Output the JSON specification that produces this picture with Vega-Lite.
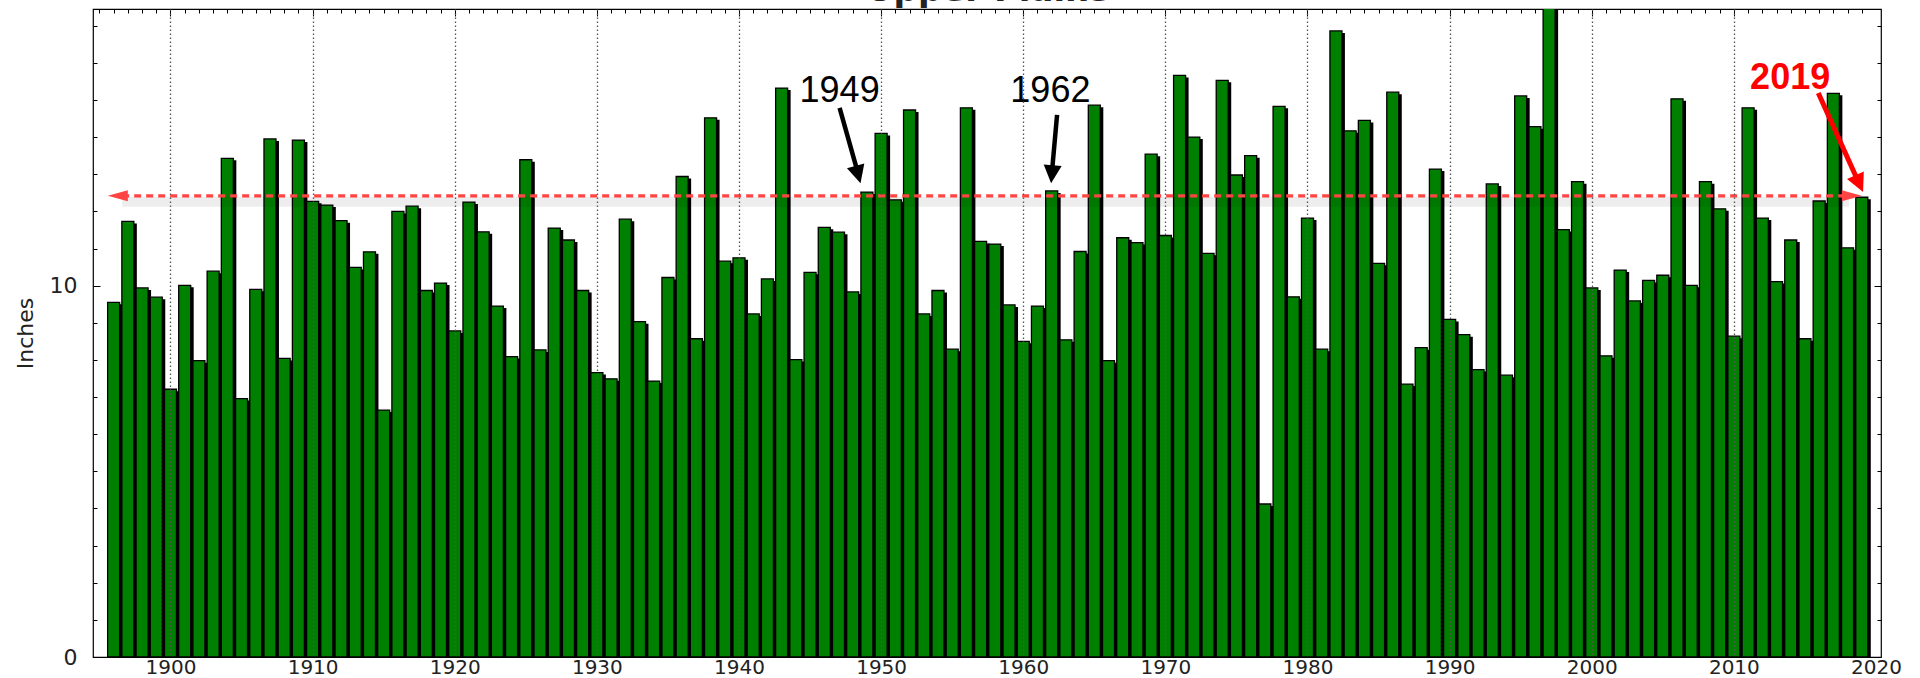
{
  "$schema": "https://vega.github.io/schema/vega-lite/v6.json",
  "width": 1788,
  "height": 648,
  "autosize": {"type": "none"},
  "padding": {"left": 93, "top": 9, "right": 39, "bottom": 21},
  "background": "white",
  "config": {
    "view": {"stroke": "black", "strokeWidth": 1.2},
    "axis": {"labelFont": "DejaVu Sans", "labelFontSize": 22, "labelColor": "#222", "titleFont": "DejaVu Sans", "titleFontSize": 22, "titleFontWeight": "normal", "titleColor": "#222", "tickColor": "black", "tickWidth": 1, "domain": false, "grid": false}
  },
  "datasets": {
    "rain": [
      {"year":1896,"inches":9.55},{"year":1897,"inches":11.73},{"year":1898,"inches":9.94},{"year":1899,"inches":9.69},
      {"year":1900,"inches":7.21},{"year":1901,"inches":10.01},{"year":1902,"inches":7.98},{"year":1903,"inches":10.39},{"year":1904,"inches":13.43},
      {"year":1905,"inches":6.96},{"year":1906,"inches":9.90},{"year":1907,"inches":13.95},{"year":1908,"inches":8.04},{"year":1909,"inches":13.92},
      {"year":1910,"inches":12.27},{"year":1911,"inches":12.17},{"year":1912,"inches":11.75},{"year":1913,"inches":10.49},{"year":1914,"inches":10.91},
      {"year":1915,"inches":6.65},{"year":1916,"inches":12.00},{"year":1917,"inches":12.14},{"year":1918,"inches":9.87},{"year":1919,"inches":10.07},
      {"year":1920,"inches":8.78},{"year":1921,"inches":12.25},{"year":1922,"inches":11.45},{"year":1923,"inches":9.45},{"year":1924,"inches":8.09},
      {"year":1925,"inches":13.39},{"year":1926,"inches":8.27},{"year":1927,"inches":11.55},{"year":1928,"inches":11.23},{"year":1929,"inches":9.87},
      {"year":1930,"inches":7.66},{"year":1931,"inches":7.49},{"year":1932,"inches":11.79},{"year":1933,"inches":9.03},{"year":1934,"inches":7.43},
      {"year":1935,"inches":10.22},{"year":1936,"inches":12.94},{"year":1937,"inches":8.57},{"year":1938,"inches":14.52},{"year":1939,"inches":10.66},
      {"year":1940,"inches":10.75},{"year":1941,"inches":9.24},{"year":1942,"inches":10.18},{"year":1943,"inches":15.32},{"year":1944,"inches":8.01},
      {"year":1945,"inches":10.36},{"year":1946,"inches":11.57},{"year":1947,"inches":11.44},{"year":1948,"inches":9.83},{"year":1949,"inches":12.52},
      {"year":1950,"inches":14.10},{"year":1951,"inches":12.31},{"year":1952,"inches":14.73},{"year":1953,"inches":9.24},{"year":1954,"inches":9.87},
      {"year":1955,"inches":8.29},{"year":1956,"inches":14.79},{"year":1957,"inches":11.19},{"year":1958,"inches":11.12},{"year":1959,"inches":9.48},
      {"year":1960,"inches":8.50},{"year":1961,"inches":9.45},{"year":1962,"inches":12.55},{"year":1963,"inches":8.54},{"year":1964,"inches":10.92},
      {"year":1965,"inches":14.86},{"year":1966,"inches":7.98},{"year":1967,"inches":11.29},{"year":1968,"inches":11.16},{"year":1969,"inches":13.54},
      {"year":1970,"inches":11.35},{"year":1971,"inches":15.66},{"year":1972,"inches":14.00},{"year":1973,"inches":10.87},{"year":1974,"inches":15.53},
      {"year":1975,"inches":12.98},{"year":1976,"inches":13.50},{"year":1977,"inches":4.12},{"year":1978,"inches":14.83},{"year":1979,"inches":9.70},
      {"year":1980,"inches":11.82},{"year":1981,"inches":8.29},{"year":1982,"inches":16.86},{"year":1983,"inches":14.17},{"year":1984,"inches":14.45},
      {"year":1985,"inches":10.60},{"year":1986,"inches":15.21},{"year":1987,"inches":7.35},{"year":1988,"inches":8.33},{"year":1989,"inches":13.14},
      {"year":1990,"inches":9.09},{"year":1991,"inches":8.68},{"year":1992,"inches":7.74},{"year":1993,"inches":12.74},{"year":1994,"inches":7.59},
      {"year":1995,"inches":15.11},{"year":1996,"inches":14.28},{"year":1997,"inches":17.5},{"year":1998,"inches":11.51},{"year":1999,"inches":12.80},
      {"year":2000,"inches":9.94},{"year":2001,"inches":8.11},{"year":2002,"inches":10.42},{"year":2003,"inches":9.59},{"year":2004,"inches":10.14},
      {"year":2005,"inches":10.28},{"year":2006,"inches":15.03},{"year":2007,"inches":10.01},{"year":2008,"inches":12.80},{"year":2009,"inches":12.07},
      {"year":2010,"inches":8.64},{"year":2011,"inches":14.79},{"year":2012,"inches":11.82},{"year":2013,"inches":10.11},{"year":2014,"inches":11.23},
      {"year":2015,"inches":8.57},{"year":2016,"inches":12.28},{"year":2017,"inches":15.18},{"year":2018,"inches":11.02},{"year":2019,"inches":12.38}
    ],
    "refline": [{"year": 1896.6, "inches": 12.42}, {"year": 2018.1, "inches": 12.42}],
    "refleft": [{"year": 1895.59, "inches": 12.42}],
    "refright": [{"year": 2019.0, "inches": 12.42}],
    "blackarrows": [
      {"arrow": "1949", "year": 1947.08, "inches": 14.79}, {"arrow": "1949", "year": 1948.34, "inches": 13.07},
      {"arrow": "1962", "year": 1962.38, "inches": 14.60}, {"arrow": "1962", "year": 1961.99, "inches": 12.93}
    ],
    "tip1949": [{"year": 1948.55, "inches": 12.76}],
    "tip1962": [{"year": 1961.96, "inches": 12.76}],
    "redarrow": [{"year": 2015.94, "inches": 15.19}, {"year": 2018.74, "inches": 12.81}],
    "tip2019": [{"year": 2019.09, "inches": 12.52}],
    "blacklabels": [{"text": "1949", "year": 1947.08, "inches": 14.95}, {"text": "1962", "year": 1961.91, "inches": 14.95}],
    "redlabel": [{"text": "2019", "year": 2013.96, "inches": 15.30}],
    "title": [{"text": "Upper Plains", "year": 1957.5, "inches": 17.66}]
  },
  "layer": [
    {
      "data": {"name": "rain"},
      "mark": {"type": "bar", "color": "black", "width": 12, "xOffset": 3, "yOffset": 2, "clip": true},
      "encoding": {
        "x": {"field": "year", "type": "quantitative", "scale": {"domain": [1894.9, 2020], "nice": false, "zero": false},
          "axis": {"orient": "bottom", "values": [1900,1910,1920,1930,1940,1950,1960,1970,1980,1990,2000,2010,2020], "format": "d", "ticks": false, "labelPadding": 0, "labelFontSize": 20, "labelFlush": false, "labelOverlap": false, "labelBound": false, "title": null}},
        "y": {"field": "inches", "type": "quantitative", "scale": {"domain": [0, 17.45], "nice": false, "zero": true},
          "axis": {"orient": "left", "values": [0, 10], "format": "d", "ticks": false, "labelPadding": 16, "title": "Inches", "titlePadding": 12}}
      }
    },
    {
      "data": {"name": "rain"},
      "mark": {"type": "bar", "color": "#008000", "stroke": "black", "strokeWidth": 1.3, "width": 12, "clip": true},
      "encoding": {
        "x": {"field": "year", "type": "quantitative", "scale": {"domain": [1894.9, 2020], "nice": false, "zero": false},
          "axis": {"orient": "bottom", "values": [1900,1910,1920,1930,1940,1950,1960,1970,1980,1990,2000,2010], "grid": true, "gridColor": "#555", "gridDash": [1.5, 2.5], "gridWidth": 1.3, "labels": false, "ticks": false, "zindex": 1, "title": null}},
        "y": {"field": "inches", "type": "quantitative", "axis": null}
      }
    },
    {
      "mark": {"type": "rule", "color": "black", "strokeWidth": 1.2},
      "encoding": {
        "y": {"datum": 11.41, "type": "quantitative",
          "axis": {"orient": "left", "values": [0,1,2,3,4,5,6,7,8,9,10,11,12,13,14,15,16,17], "labels": false, "ticks": true, "tickSize": {"condition": {"test": "datum.value % 10 === 0", "value": -7}, "value": -4}, "title": null}}
      }
    },
    {
      "data": {"name": "refline"},
      "mark": {"type": "line", "color": "#000000", "opacity": 0.07, "strokeWidth": 10, "yOffset": 6},
      "encoding": {
        "x": {"field": "year", "type": "quantitative", "axis": null},
        "y": {"field": "inches", "type": "quantitative", "axis": null}
      }
    },
    {
      "data": {"name": "refline"},
      "mark": {"type": "line", "color": "#ff4444", "strokeWidth": 3.3, "strokeDash": [7, 5]},
      "encoding": {
        "x": {"field": "year", "type": "quantitative",
          "axis": {"orient": "top", "values": [1895,1896,1897,1898,1899,1900,1901,1902,1903,1904,1905,1906,1907,1908,1909,1910,1911,1912,1913,1914,1915,1916,1917,1918,1919,1920,1921,1922,1923,1924,1925,1926,1927,1928,1929,1930,1931,1932,1933,1934,1935,1936,1937,1938,1939,1940,1941,1942,1943,1944,1945,1946,1947,1948,1949,1950,1951,1952,1953,1954,1955,1956,1957,1958,1959,1960,1961,1962,1963,1964,1965,1966,1967,1968,1969,1970,1971,1972,1973,1974,1975,1976,1977,1978,1979,1980,1981,1982,1983,1984,1985,1986,1987,1988,1989,1990,1991,1992,1993,1994,1995,1996,1997,1998,1999,2000,2001,2002,2003,2004,2005,2006,2007,2008,2009,2010,2011,2012,2013,2014,2015,2016,2017,2018,2019], "labels": false, "ticks": true, "tickSize": {"condition": {"test": "datum.value % 10 === 0", "value": -7}, "value": -4}, "title": null}},
        "y": {"field": "inches", "type": "quantitative",
          "axis": {"orient": "right", "values": [1,2,3,4,5,6,7,8,9,10,11,12,13,14,15,16,17], "labels": false, "ticks": true, "tickSize": {"condition": {"test": "datum.value % 10 === 0", "value": -7}, "value": -4}, "title": null}}
      }
    },
    {
      "data": {"name": "refleft"},
      "mark": {"type": "point", "shape": "M 2 -0.55 L 0 0 L 2 0.55 Z", "size": 400, "filled": true, "color": "#ff4444", "opacity": 1, "strokeWidth": 0},
      "encoding": {
        "x": {"field": "year", "type": "quantitative", "axis": null},
        "y": {"field": "inches", "type": "quantitative", "axis": null}
      }
    },
    {
      "data": {"name": "refright"},
      "mark": {"type": "point", "shape": "M -2 -0.55 L 0 0 L -2 0.55 Z", "size": 400, "filled": true, "color": "#ff4444", "opacity": 1, "strokeWidth": 0},
      "encoding": {
        "x": {"field": "year", "type": "quantitative", "axis": null},
        "y": {"field": "inches", "type": "quantitative", "axis": null}
      }
    },
    {
      "data": {"name": "blackarrows"},
      "mark": {"type": "line", "color": "black", "strokeWidth": 4.5, "strokeCap": "butt"},
      "encoding": {
        "x": {"field": "year", "type": "quantitative", "axis": null},
        "y": {"field": "inches", "type": "quantitative", "axis": null},
        "detail": {"field": "arrow"}
      }
    },
    {
      "data": {"name": "tip1949"},
      "mark": {"type": "point", "shape": "M -1 -2 L 0 0 L 1 -2 Z", "size": 324, "angle": 344.3, "filled": true, "color": "black", "opacity": 1, "strokeWidth": 0},
      "encoding": {
        "x": {"field": "year", "type": "quantitative", "axis": null},
        "y": {"field": "inches", "type": "quantitative", "axis": null}
      }
    },
    {
      "data": {"name": "tip1962"},
      "mark": {"type": "point", "shape": "M -1 -2 L 0 0 L 1 -2 Z", "size": 324, "angle": 5, "filled": true, "color": "black", "opacity": 1, "strokeWidth": 0},
      "encoding": {
        "x": {"field": "year", "type": "quantitative", "axis": null},
        "y": {"field": "inches", "type": "quantitative", "axis": null}
      }
    },
    {
      "data": {"name": "redarrow"},
      "mark": {"type": "line", "color": "#ff0000", "strokeWidth": 5, "strokeCap": "butt"},
      "encoding": {
        "x": {"field": "year", "type": "quantitative", "axis": null},
        "y": {"field": "inches", "type": "quantitative", "axis": null}
      }
    },
    {
      "data": {"name": "tip2019"},
      "mark": {"type": "point", "shape": "M -1 -2 L 0 0 L 1 -2 Z", "size": 340, "angle": 335.5, "filled": true, "color": "#ff0000", "opacity": 1, "strokeWidth": 0},
      "encoding": {
        "x": {"field": "year", "type": "quantitative", "axis": null},
        "y": {"field": "inches", "type": "quantitative", "axis": null}
      }
    },
    {
      "data": {"name": "blacklabels"},
      "mark": {"type": "text", "font": "Liberation Sans", "fontSize": 36, "color": "black", "align": "center", "baseline": "alphabetic"},
      "encoding": {
        "x": {"field": "year", "type": "quantitative", "axis": null},
        "y": {"field": "inches", "type": "quantitative", "axis": null},
        "text": {"field": "text"}
      }
    },
    {
      "data": {"name": "redlabel"},
      "mark": {"type": "text", "font": "Liberation Sans", "fontSize": 36, "fontWeight": "bold", "color": "#ff0000", "align": "center", "baseline": "alphabetic"},
      "encoding": {
        "x": {"field": "year", "type": "quantitative", "axis": null},
        "y": {"field": "inches", "type": "quantitative", "axis": null},
        "text": {"field": "text"}
      }
    },
    {
      "data": {"name": "title"},
      "mark": {"type": "text", "font": "DejaVu Sans", "fontSize": 34, "fontWeight": "bold", "color": "#222", "align": "center", "baseline": "alphabetic"},
      "encoding": {
        "x": {"field": "year", "type": "quantitative", "axis": null},
        "y": {"field": "inches", "type": "quantitative", "axis": null},
        "text": {"field": "text"}
      }
    }
  ],
  "resolve": {"axis": {"x": "independent", "y": "independent"}}
}
